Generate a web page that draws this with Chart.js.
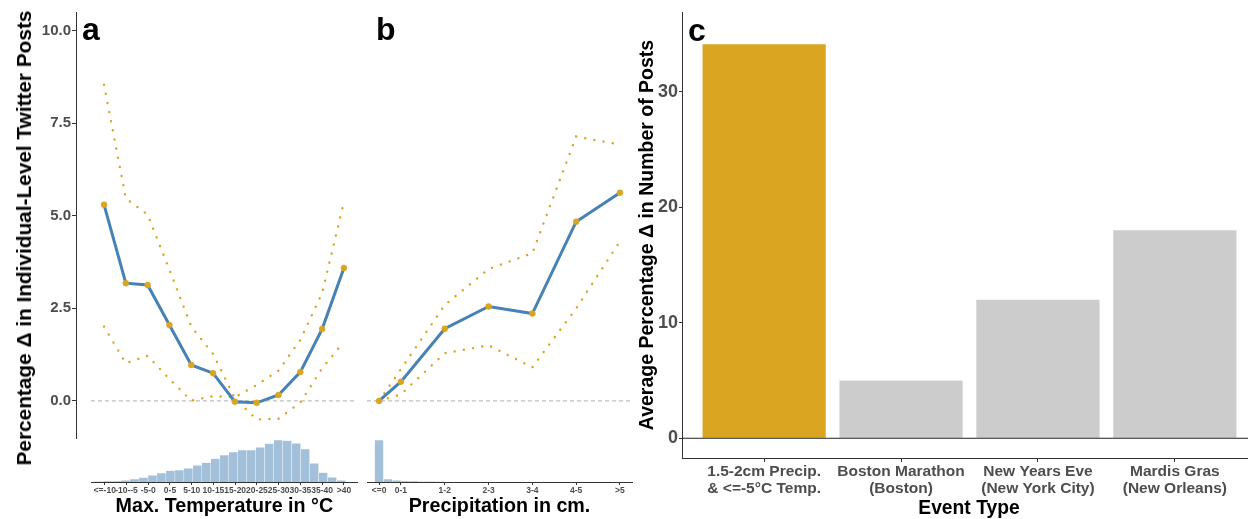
<!DOCTYPE html>
<html>

<head>
    <title>Weather and Twitter Posts</title>
    <script src="https://cdn.jsdelivr.net/npm/chart.js@4.4.0/dist/chart.umd.min.js"></script>
    <style>
        body { margin: 0; background: #fff; font-family: "Liberation Sans", Arial, sans-serif; }
        #wrap { position: relative; width: 1248px; height: 519px; overflow: hidden; }
        canvas { position: absolute; }
        .lbl { position: absolute; font-weight: bold; color: #000; white-space: nowrap; }
        .tag { font-size: 32px; line-height: 32px; }
        .mid { transform: translate(-50%, -50%); }
        .rot { transform: translate(-50%, -50%) rotate(-90deg); }
    </style>
</head>

<body>
    <div id="wrap">
        <canvas id="tempLine" width="362" height="440" style="left:0;top:0"></canvas>
        <canvas id="tempHist" width="362" height="85" style="left:0;top:434px"></canvas>
        <canvas id="precipLine" width="280" height="440" style="left:362px;top:0"></canvas>
        <canvas id="precipHist" width="280" height="85" style="left:362px;top:434px"></canvas>
        <canvas id="events" width="640" height="519" style="left:630px;top:0"></canvas>

        <div class="lbl tag" style="left:82px;top:13px">a</div>
        <div class="lbl tag" style="left:376px;top:13px">b</div>
        <div class="lbl tag" style="left:688px;top:14px">c</div>
        <div class="lbl rot" style="left:24px;top:238px;font-size:20.8px">Percentage Δ in Individual-Level Twitter Posts</div>
        <div class="lbl mid" style="left:969px;top:508px;font-size:19.3px">Event Type</div>
    </div>

    <script>
        // panel a: max temperature bins
        var tempLabels = ['<=-10', '-10--5', '-5-0', '0-5', '5-10', '10-15', '15-20', '20-25', '25-30', '30-35', '35-40', '>40'];
        var tempMean = [5.30, 3.18, 3.13, 2.05, 0.97, 0.75, -0.02, -0.05, 0.16, 0.78, 1.94, 3.59];
        var tempBoundA = [8.54, 5.47, 5.03, 3.54, 2.01, 1.27, 0.07, -0.50, -0.48, -0.04, 0.88, 1.60];
        var tempBoundB = [2.01, 1.02, 1.22, 0.59, 0.01, 0.13, 0.10, 0.43, 0.82, 1.65, 2.91, 5.37];
        var yTicks = [0, 2.5, 5, 7.5, 10];

        // temperature histogram (relative counts)
        var tempHist = [0.3, 0.7, 1, 1.7, 3, 4.3, 6.7, 9, 11.3, 12, 13.7, 16.7, 19.3, 23.3,
            27, 30, 32, 32, 34.7, 38.3, 42, 41.3, 38.7, 33, 18.7, 9.3, 4.7, 1.7];
        var tempHistStart = -0.49, tempHistWidth = 0.413;

        // panel b: precipitation bins
        var precipLabels = ['<=0', '0-1', '1-2', '2-3', '3-4', '4-5', '>5'];
        var precipPos = [0, 0.5, 1.5, 2.5, 3.5, 4.5, 5.5];
        var precipMean = [0.0, 0.52, 1.95, 2.55, 2.36, 4.84, 5.62];
        var precipUpper = [0.0, 0.86, 2.59, 3.56, 3.99, 7.14, 6.92];
        var precipLower = [0.0, 0.18, 1.29, 1.50, 0.91, 2.50, 4.31];

        // precipitation histogram (relative counts)
        var precipHist = [42, 3, 1.7, 1, 0.7, 0.5, 0.35, 0.25];
        var precipHistStart = -0.1, precipHistWidth = 0.2;

        // panel c: events
        var eventLabels = [['1.5-2cm Precip.', '& <=-5°C Temp.'], ['Boston Marathon', '(Boston)'],
            ['New Years Eve', '(New York City)'], ['Mardis Gras', '(New Orleans)']];
        var eventValues = [34.1, 5.0, 12.0, 18.0];
        var eventTicks = [0, 10, 20, 30];

        Chart.defaults.font.family = '"Liberation Sans", Arial, sans-serif';
        Chart.defaults.animation = false;
        Chart.defaults.responsive = false;
        Chart.defaults.plugins.legend.display = false;
        Chart.defaults.plugins.tooltip.enabled = false;

        var AXIS = '#333333', TICK = '#4d4d4d', GOLD = '#DAA520', BLUE = '#4682B4';

        function pts(xs, ys) {
            return ys.map(function (y, i) { return { x: xs[i], y: y }; });
        }
        function fixTicks(vals) {
            return function (s) { s.ticks = vals.map(function (v) { return { value: v }; }); };
        }
        // fixed axis size, and no extra room asked for the end labels
        function fitTo(prop, size) {
            return function (s) {
                s[prop] = size;
                s.paddingTop = s.paddingBottom = s.paddingLeft = s.paddingRight = 0;
            };
        }
        function meanLine(data) {
            return { data: data, borderColor: BLUE, borderWidth: 3, pointRadius: 3, pointBackgroundColor: GOLD,
                pointBorderColor: GOLD, pointBorderWidth: 0.5, tension: 0 };
        }
        function ciLine(data) {
            return { data: data, borderColor: GOLD, borderWidth: 2.4, borderDash: [0.1, 9.2],
                borderCapStyle: 'round', pointRadius: 0, tension: 0 };
        }
        function zeroLine(x0, x1) {
            return { data: [{ x: x0, y: 0 }, { x: x1, y: 0 }], borderColor: '#BDBDBD', borderWidth: 1.2,
                borderDash: [4, 3], pointRadius: 0 };
        }
        function histSet(centers, heights) {
            return { data: pts(centers, heights), backgroundColor: 'rgba(70,130,180,0.5)',
                borderColor: 'rgba(255,255,255,0.7)', borderWidth: 0.5, barPercentage: 1, categoryPercentage: 1 };
        }
        function histAxis(min, max, vals, labelOf, title) {
            return {
                type: 'linear', min: min, max: max, offset: false,
                afterFit: fitTo('height', 37),
                afterBuildTicks: fixTicks(vals),
                ticks: { autoSkip: false, maxRotation: 0, minRotation: 0, callback: labelOf,
                    font: { size: 8.5, weight: 'bold' }, color: TICK, padding: 1 },
                grid: { offset: false, drawOnChartArea: false, tickLength: 3, color: AXIS },
                border: { color: AXIS },
                title: { display: true, text: title, font: { size: 19.7, weight: 'bold' }, color: '#000',
                    padding: { top: 0, bottom: 1 } }
            };
        }

        var tempIdx = tempLabels.map(function (_, i) { return i; });

        // panel a, top
        new Chart(document.getElementById('tempLine'), {
            type: 'line',
            data: {
                datasets: [meanLine(pts(tempIdx, tempMean)), ciLine(pts(tempIdx, tempBoundA)),
                    ciLine(pts(tempIdx, tempBoundB)), zeroLine(-0.6, 11.6)]
            },
            options: {
                layout: { autoPadding: false, padding: { top: 12, right: 5, bottom: 2, left: 0 } },
                scales: {
                    x: { type: 'linear', display: false, min: -1.284, max: 11.6 },
                    y: {
                        min: -1, max: 10.5,
                        afterFit: fitTo('width', 76),
                        afterBuildTicks: fixTicks(yTicks),
                        ticks: { callback: function (v) { return v.toFixed(1); },
                            font: { size: 15, weight: 'bold' }, color: TICK, padding: 1 },
                        grid: { drawOnChartArea: false, tickLength: 4, color: AXIS },
                        border: { color: AXIS, width: 1 }
                    }
                }
            }
        });

        // panel a, histogram
        var tempCenters = tempHist.map(function (_, k) { return tempHistStart + tempHistWidth * (k + 0.5); });
        new Chart(document.getElementById('tempHist'), {
            type: 'bar',
            data: { datasets: [histSet(tempCenters, tempHist)] },
            options: {
                layout: { autoPadding: false, padding: { top: 2, right: 5, bottom: 0, left: 91.7 } },
                scales: {
                    x: histAxis(-0.6, 11.6, tempIdx, function (v) { return tempLabels[v]; }, 'Max. Temperature in °C'),
                    y: { display: false, min: 0, max: 46 }
                }
            }
        });

        // panel b, top
        new Chart(document.getElementById('precipLine'), {
            type: 'line',
            data: {
                datasets: [meanLine(pts(precipPos, precipMean)), ciLine(pts(precipPos, precipUpper)),
                    ciLine(pts(precipPos, precipLower)), zeroLine(-0.275, 5.775)]
            },
            options: {
                layout: { autoPadding: false, padding: { top: 12, right: 10, bottom: 2, left: 5 } },
                scales: {
                    x: { type: 'linear', display: false, min: -0.275, max: 5.775 },
                    y: { display: false, min: -1, max: 10.5 }
                }
            }
        });

        // panel b, histogram
        var precipCenters = precipHist.map(function (_, k) { return precipHistStart + precipHistWidth * (k + 0.5); });
        new Chart(document.getElementById('precipHist'), {
            type: 'bar',
            data: { datasets: [histSet(precipCenters, precipHist)] },
            options: {
                layout: { autoPadding: false, padding: { top: 2, right: 10, bottom: 0, left: 5 } },
                scales: {
                    x: histAxis(-0.275, 5.775, precipPos,
                        function (v) { return precipLabels[precipPos.indexOf(v)]; }, 'Precipitation in cm.'),
                    y: { display: false, min: 0, max: 46 }
                }
            }
        });

        // panel c (its panel runs a little past the right edge of the picture)
        var eventIdx = eventLabels.map(function (_, i) { return i; });
        new Chart(document.getElementById('events'), {
            type: 'bar',
            data: {
                datasets: [
                    { type: 'line', data: [{ x: -0.6, y: 0 }, { x: 3.6, y: 0 }], borderColor: '#222',
                        borderWidth: 1.2, pointRadius: 0 },
                    { data: pts(eventIdx, eventValues), barPercentage: 0.9, categoryPercentage: 1,
                        backgroundColor: function (c) { return c.dataIndex === 0 ? GOLD : '#CCCCCC'; } }
                ]
            },
            options: {
                layout: { autoPadding: false, padding: { top: 12, right: 13, bottom: 0, left: 0 } },
                scales: {
                    x: {
                        type: 'linear', min: -0.6, max: 3.6, offset: false,
                        afterFit: fitTo('height', 61),
                        afterBuildTicks: fixTicks(eventIdx),
                        ticks: { autoSkip: false, maxRotation: 0, minRotation: 0,
                            callback: function (v) { return eventLabels[v]; },
                            font: { size: 15.5, weight: 'bold', lineHeight: 1.1 }, color: TICK, padding: 1 },
                        grid: { offset: false, drawOnChartArea: false, tickLength: 4, color: AXIS },
                        border: { color: AXIS }
                    },
                    y: {
                        min: -1.71, max: 36.9,
                        afterFit: fitTo('width', 52),
                        afterBuildTicks: fixTicks(eventTicks),
                        ticks: { font: { size: 18, weight: 'bold' }, color: TICK, padding: 1 },
                        grid: { drawOnChartArea: false, tickLength: 3, color: AXIS },
                        border: { color: AXIS },
                        title: { display: true, text: 'Average Percentage Δ in Number of Posts',
                            font: { size: 19.5, weight: 'bold' }, color: '#000', padding: { top: 6, bottom: 0 } }
                    }
                }
            }
        });
    </script>
</body>

</html>
